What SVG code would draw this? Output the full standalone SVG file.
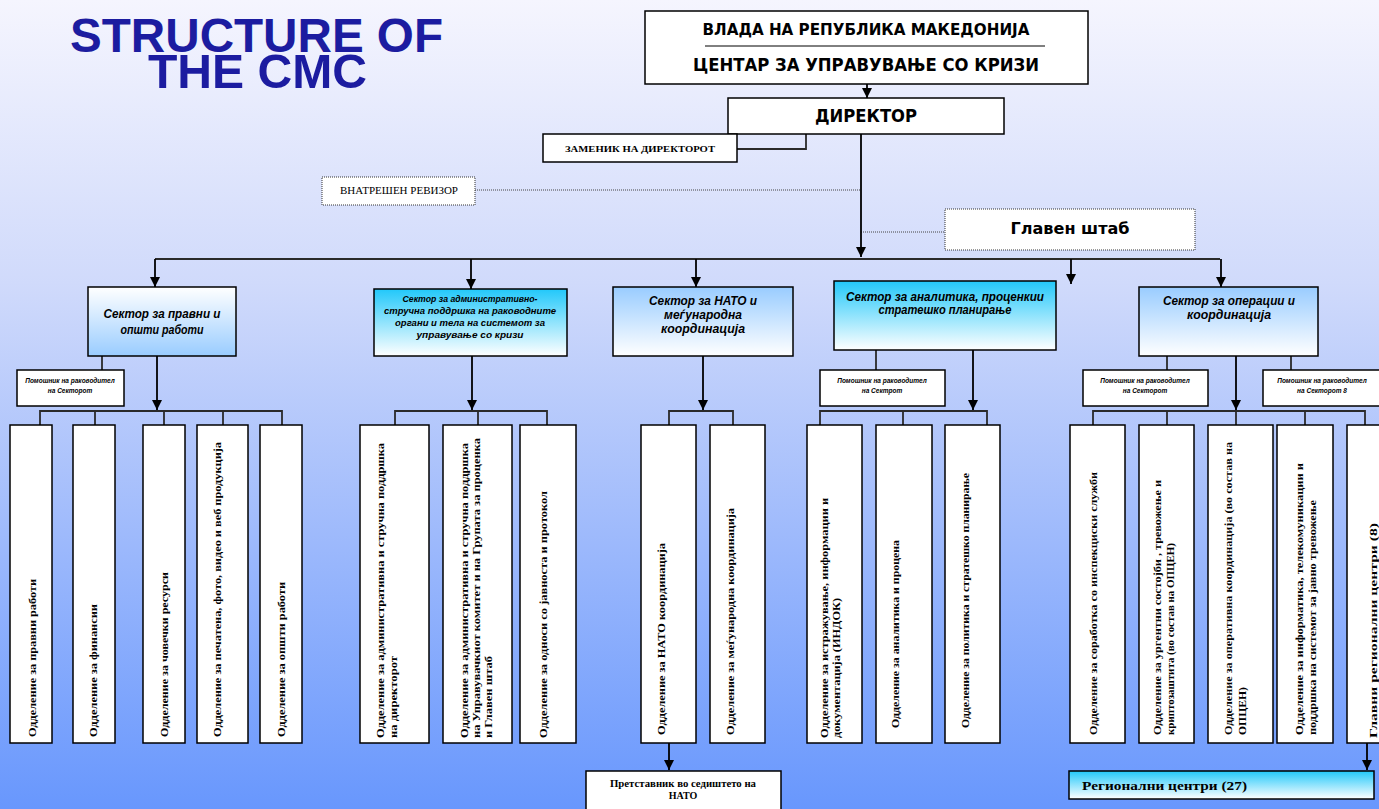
<svg xmlns="http://www.w3.org/2000/svg" width="1379" height="809" viewBox="0 0 1379 809">
<defs>
<linearGradient id="bg" x1="0" y1="0" x2="0" y2="1">
<stop offset="0" stop-color="#f5f5fe"/>
<stop offset="0.35" stop-color="#d0dafb"/>
<stop offset="1" stop-color="#6897fd"/>
</linearGradient>
<linearGradient id="gUp" x1="0" y1="0" x2="0" y2="1">
<stop offset="0" stop-color="#ffffff"/>
<stop offset="1" stop-color="#99ccff"/>
</linearGradient>
<linearGradient id="gCyan" x1="0" y1="0" x2="0" y2="1">
<stop offset="0" stop-color="#22c8fa"/>
<stop offset="1" stop-color="#ffffff"/>
</linearGradient>
<linearGradient id="gLight" x1="0" y1="0" x2="0" y2="1">
<stop offset="0" stop-color="#99ccff"/>
<stop offset="1" stop-color="#ffffff"/>
</linearGradient>
<marker id="ah" markerUnits="userSpaceOnUse" markerWidth="10" markerHeight="10" viewBox="0 0 10 10" refX="10" refY="5" orient="auto">
<path d="M0,0 L10,5 L0,10 z" fill="#000"/>
</marker>
</defs>
<style>
.box{fill:#fff;stroke:#000;stroke-width:1.5}
.dot{fill:#fff;stroke:#333;stroke-width:1;stroke-dasharray:1 1}
.ln{fill:none;stroke:#2a2a2a;stroke-width:1.8}
.arr{fill:none;stroke:#000;stroke-width:1.8;marker-end:url(#ah)}
.dl{fill:none;stroke:#444;stroke-width:1;stroke-dasharray:1 1}
.hdr{font-family:"DejaVu Sans","Liberation Sans",sans-serif;font-weight:bold;fill:#000;text-anchor:middle}
.sec{font-family:"Liberation Sans",Arial,sans-serif;font-weight:bold;font-style:italic;fill:#000;text-anchor:middle}
.as{font-family:"Liberation Sans",Arial,sans-serif;font-weight:bold;font-style:italic;font-size:6.5px;fill:#000;text-anchor:middle}
.dep{font-family:"Liberation Serif","Times New Roman",serif;font-weight:bold;font-size:11px;fill:#000}
.ser{font-family:"Liberation Serif","Times New Roman",serif;fill:#000}
</style>
<rect x="0" y="0" width="1379" height="809" fill="url(#bg)"/>

<g id="title">
<text font-family="Liberation Sans,Arial,sans-serif" font-weight="bold" font-size="48" fill="#1c1ca0"><tspan x="70" y="52" textLength="373" lengthAdjust="spacingAndGlyphs">STRUCTURE OF</tspan><tspan x="148" y="88" textLength="219" lengthAdjust="spacingAndGlyphs">THE CMC</tspan></text>
</g>

<g id="connectors">
<line class="arr" x1="867" y1="84" x2="867" y2="98"/>
<polyline class="ln" points="737,149 806,149 806,134"/>
<line class="dl" x1="475" y1="190" x2="861" y2="190"/>
<line class="dl" x1="861" y1="232" x2="945" y2="232"/>
<line class="arr" x1="861" y1="134" x2="861" y2="257"/>
<line class="ln" x1="155" y1="259" x2="1220" y2="259"/>
<line class="arr" x1="155" y1="259" x2="155" y2="287"/>
<line class="arr" x1="471" y1="259" x2="471" y2="289"/>
<line class="arr" x1="696" y1="259" x2="696" y2="287"/>
<line class="arr" x1="1071" y1="259" x2="1071" y2="284"/>
<line class="arr" x1="1221" y1="259" x2="1221" y2="287"/>
<line class="ln" x1="102" y1="356" x2="102" y2="370"/>
<line class="arr" x1="157" y1="356" x2="157" y2="410"/>
<polyline class="ln" points="40,425 40,411 282,411 282,425"/>
<line class="ln" x1="95" y1="411" x2="95" y2="425"/>
<line class="ln" x1="164" y1="411" x2="164" y2="425"/>
<line class="ln" x1="223" y1="411" x2="223" y2="425"/>
<line class="arr" x1="472" y1="356" x2="472" y2="410"/>
<polyline class="ln" points="395,425 395,411 547,411 547,425"/>
<line class="ln" x1="478" y1="411" x2="478" y2="425"/>
<line class="arr" x1="703" y1="356" x2="703" y2="410"/>
<polyline class="ln" points="669,425 669,411 733,411 733,425"/>
<line class="arr" x1="669" y1="743" x2="669" y2="770"/>
<line class="ln" x1="876" y1="350" x2="876" y2="370"/>
<line class="arr" x1="973" y1="350" x2="973" y2="410"/>
<polyline class="ln" points="820,425 820,411 987,411 987,425"/>
<line class="ln" x1="903" y1="411" x2="903" y2="425"/>
<line class="ln" x1="1167" y1="356" x2="1167" y2="370"/>
<line class="ln" x1="1291" y1="356" x2="1291" y2="370"/>
<line class="arr" x1="1236" y1="356" x2="1236" y2="410"/>
<polyline class="ln" points="1093,425 1093,411 1365,411 1365,425"/>
<line class="ln" x1="1167" y1="411" x2="1167" y2="425"/>
<line class="ln" x1="1236" y1="411" x2="1236" y2="425"/>
<line class="ln" x1="1305" y1="411" x2="1305" y2="425"/>
<line class="arr" x1="1367" y1="743" x2="1367" y2="770"/>
</g>

<g id="vlada">
<rect class="box" x="645" y="11" width="443" height="73"/>
<text class="hdr" x="866" y="35" font-size="15" textLength="327" lengthAdjust="spacingAndGlyphs">ВЛАДА НА РЕПУБЛИКА МАКЕДОНИЈА</text>
<line x1="705" y1="46" x2="1045" y2="46" stroke="#000" stroke-width="1"/>
<text class="hdr" x="866" y="71" font-size="17" textLength="346" lengthAdjust="spacingAndGlyphs">ЦЕНТАР ЗА УПРАВУВАЊЕ СО КРИЗИ</text>
</g>

<g id="direktor">
<rect class="box" x="728" y="98" width="276" height="36"/>
<text class="hdr" x="866" y="122" font-size="17" textLength="102" lengthAdjust="spacingAndGlyphs">ДИРЕКТОР</text>
</g>

<g id="zamenik">
<rect class="box" x="543" y="134" width="194" height="28"/>
<text class="ser" x="640" y="152" font-size="9" font-weight="bold" text-anchor="middle" textLength="150" lengthAdjust="spacingAndGlyphs">ЗАМЕНИК НА ДИРЕКТОРОТ</text>
</g>

<g id="revizor">
<rect class="dot" x="322" y="177" width="153" height="28"/>
<text class="ser" x="399" y="194" font-size="10" text-anchor="middle" textLength="118" lengthAdjust="spacingAndGlyphs">ВНАТРЕШЕН  РЕВИЗОР</text>
</g>

<g id="glavenstab">
<rect class="dot" x="945" y="209" width="250" height="41"/>
<text class="hdr" x="1070" y="234" font-size="16" textLength="119" lengthAdjust="spacingAndGlyphs">Главен штаб</text>
</g>

<g id="sector1">
<rect class="box" x="88" y="287" width="148" height="69" style="fill:url(#gUp)"/>
<text class="sec" x="162" y="318" font-size="12" textLength="117" lengthAdjust="spacingAndGlyphs">Сектор за правни и</text>
<text class="sec" x="162" y="334" font-size="12" textLength="83" lengthAdjust="spacingAndGlyphs">општи работи</text>
</g>
<g id="asst1">
<rect class="box" x="17" y="370" width="107" height="36"/>
<text class="as" x="70" y="383">Помошник на раководител</text>
<text class="as" x="70" y="393">на Секторот</text>
</g>
<g id="dep1-1"><rect class="box" x="10" y="425" width="42" height="318"/><text class="dep" transform="translate(36,737) rotate(-90)" textLength="158" lengthAdjust="spacingAndGlyphs">Одделение за правни работи</text></g>
<g id="dep1-2"><rect class="box" x="73" y="425" width="42" height="318"/><text class="dep" transform="translate(97,737) rotate(-90)" textLength="133" lengthAdjust="spacingAndGlyphs">Одделение за финансии</text></g>
<g id="dep1-3"><rect class="box" x="143" y="425" width="42" height="318"/><text class="dep" transform="translate(168,737) rotate(-90)" textLength="165" lengthAdjust="spacingAndGlyphs">Одделение за човечки ресурси</text></g>
<g id="dep1-4"><rect class="box" x="197" y="425" width="51" height="318"/><text class="dep" transform="translate(221,737) rotate(-90)" textLength="295" lengthAdjust="spacingAndGlyphs">Одделение за печатена, фото, видео и веб продукција</text></g>
<g id="dep1-5"><rect class="box" x="260" y="425" width="42" height="318"/><text class="dep" transform="translate(285,737) rotate(-90)" textLength="155" lengthAdjust="spacingAndGlyphs">Одделение за општи работи</text></g>

<g id="sector2">
<rect class="box" x="374" y="289" width="193" height="67" style="fill:url(#gCyan)"/>
<text class="sec" x="470" y="302" font-size="9" textLength="135" lengthAdjust="spacingAndGlyphs">Сектор за административно-</text>
<text class="sec" x="470" y="314" font-size="9" textLength="172" lengthAdjust="spacingAndGlyphs">стручна поддршка на раководните</text>
<text class="sec" x="470" y="326" font-size="9" textLength="150" lengthAdjust="spacingAndGlyphs">органи и тела на системот за</text>
<text class="sec" x="470" y="338" font-size="9" textLength="107" lengthAdjust="spacingAndGlyphs">управување со кризи</text>
</g>
<g id="dep2-1"><rect class="box" x="360" y="425" width="69" height="318"/>
<text class="dep" transform="translate(384,738) rotate(-90)" textLength="295" lengthAdjust="spacingAndGlyphs">Одделение за административна и стручна поддршка</text>
<text class="dep" transform="translate(397,738) rotate(-90)" textLength="82" lengthAdjust="spacingAndGlyphs">на директорот</text></g>
<g id="dep2-2"><rect class="box" x="443" y="425" width="69" height="318"/>
<text class="dep" transform="translate(468,738) rotate(-90)" textLength="295" lengthAdjust="spacingAndGlyphs">Одделение за административна и стручна поддршка</text>
<text class="dep" transform="translate(480,738) rotate(-90)" textLength="300" lengthAdjust="spacingAndGlyphs">на Управувачкиот комитет и на Групата за проценка</text>
<text class="dep" transform="translate(492,738) rotate(-90)" textLength="82" lengthAdjust="spacingAndGlyphs">и Главен штаб</text></g>
<g id="dep2-3"><rect class="box" x="520" y="425" width="56" height="318"/>
<text class="dep" transform="translate(547,738) rotate(-90)" textLength="247" lengthAdjust="spacingAndGlyphs">Одделение за односи со јавноста и протокол</text></g>

<g id="sector3">
<rect class="box" x="613" y="287" width="180" height="69" style="fill:url(#gLight)"/>
<text class="sec" x="703" y="305" font-size="12" textLength="108" lengthAdjust="spacingAndGlyphs">Сектор за НАТО  и</text>
<text class="sec" x="703" y="319" font-size="12" textLength="78" lengthAdjust="spacingAndGlyphs">меѓународна</text>
<text class="sec" x="703" y="333" font-size="12" textLength="84" lengthAdjust="spacingAndGlyphs">координација</text>
</g>
<g id="dep3-1"><rect class="box" x="641" y="425" width="55" height="318"/>
<text class="dep" transform="translate(665,735) rotate(-90)" textLength="192" lengthAdjust="spacingAndGlyphs">Одделение за  НАТО координација</text></g>
<g id="dep3-2"><rect class="box" x="710" y="425" width="55" height="318"/>
<text class="dep" transform="translate(734,735) rotate(-90)" textLength="227" lengthAdjust="spacingAndGlyphs">Одделение за меѓународна координација</text></g>
<g id="pretstavnik">
<rect class="box" x="586" y="771" width="195" height="45"/>
<text class="ser" x="683" y="787" font-size="10" font-weight="bold" text-anchor="middle" textLength="146" lengthAdjust="spacingAndGlyphs">Претставник во седиштето на</text>
<text class="ser" x="683" y="799" font-size="10" font-weight="bold" text-anchor="middle">НАТО</text>
</g>

<g id="sector4">
<rect class="box" x="834" y="281" width="222" height="69" style="fill:url(#gCyan)"/>
<text class="sec" x="945" y="301" font-size="12" textLength="198" lengthAdjust="spacingAndGlyphs">Сектор за аналитика, проценкии</text>
<text class="sec" x="945" y="314" font-size="12" textLength="133" lengthAdjust="spacingAndGlyphs">стратешко планирање</text>
</g>
<g id="asst4">
<rect class="box" x="820" y="370" width="125" height="36"/>
<text class="as" x="882" y="383">Помошник на раководител</text>
<text class="as" x="882" y="393">на Сектрот</text>
</g>
<g id="dep4-1"><rect class="box" x="807" y="425" width="55" height="318"/>
<text class="dep" transform="translate(828,738) rotate(-90)" textLength="240" lengthAdjust="spacingAndGlyphs">Одделение за истражување, информации и</text>
<text class="dep" transform="translate(840,738) rotate(-90)" textLength="140" lengthAdjust="spacingAndGlyphs">документација (ИНДОК)</text></g>
<g id="dep4-2"><rect class="box" x="876" y="425" width="56" height="318"/>
<text class="dep" transform="translate(899,728) rotate(-90)" textLength="188" lengthAdjust="spacingAndGlyphs">Одделение за  аналитика и процена</text></g>
<g id="dep4-3"><rect class="box" x="945" y="425" width="55" height="318"/>
<text class="dep" transform="translate(969,728) rotate(-90)" textLength="255" lengthAdjust="spacingAndGlyphs">Одделение за  политика и стратешко планирање</text></g>

<g id="sector5">
<rect class="box" x="1139" y="287" width="179" height="69" style="fill:url(#gLight)"/>
<text class="sec" x="1229" y="305" font-size="12" textLength="132" lengthAdjust="spacingAndGlyphs">Сектор за операции и</text>
<text class="sec" x="1229" y="319" font-size="12" textLength="84" lengthAdjust="spacingAndGlyphs">координација</text>
</g>
<g id="asst5a">
<rect class="box" x="1083" y="370" width="125" height="36"/>
<text class="as" x="1145" y="383">Помошник на раководител</text>
<text class="as" x="1145" y="393">на Секторот</text>
</g>
<g id="asst5b">
<rect class="box" x="1263" y="370" width="125" height="36"/>
<text class="as" x="1322" y="383">Помошник на раководител</text>
<text class="as" x="1322" y="393">на Секторот  8</text>
</g>
<g id="dep5-1"><rect class="box" x="1070" y="425" width="55" height="318"/>
<text class="dep" transform="translate(1097,735) rotate(-90)" textLength="263" lengthAdjust="spacingAndGlyphs">Одделение за соработка со инспекциски служби</text></g>
<g id="dep5-2"><rect class="box" x="1139" y="425" width="55" height="318"/>
<text class="dep" transform="translate(1161,735) rotate(-90)" textLength="255" lengthAdjust="spacingAndGlyphs">Одделение за ургентни состојби , тревожење и</text>
<text class="dep" transform="translate(1174,735) rotate(-90)" textLength="192" lengthAdjust="spacingAndGlyphs">криптозаштита (во состав на ОПЦЕН)</text></g>
<g id="dep5-3"><rect class="box" x="1208" y="425" width="65" height="318"/>
<text class="dep" transform="translate(1232,735) rotate(-90)" textLength="293" lengthAdjust="spacingAndGlyphs">Одделение за оперативна координација (во состав на</text>
<text class="dep" transform="translate(1246,735) rotate(-90)" textLength="48" lengthAdjust="spacingAndGlyphs">ОПЦЕН)</text></g>
<g id="dep5-4"><rect class="box" x="1277" y="425" width="56" height="318"/>
<text class="dep" transform="translate(1303,735) rotate(-90)" textLength="272" lengthAdjust="spacingAndGlyphs">Одделение за информатика, телекомуникации и</text>
<text class="dep" transform="translate(1316,735) rotate(-90)" textLength="235" lengthAdjust="spacingAndGlyphs">поддршка на системот за јавно тревожење</text></g>
<g id="dep5-5"><rect class="box" x="1347" y="425" width="45" height="318"/>
<text class="dep" transform="translate(1377,738) rotate(-90)" font-size="14" textLength="215" lengthAdjust="spacingAndGlyphs">Главни регионални центри (8)</text></g>
<g id="regionalni">
<rect class="box" x="1069" y="771" width="305" height="28" style="fill:url(#gCyan)"/>
<text class="ser" x="1082" y="790" font-size="13.5" font-weight="bold" textLength="165" lengthAdjust="spacingAndGlyphs">Регионални центри (27)</text>
</g>
</svg>
